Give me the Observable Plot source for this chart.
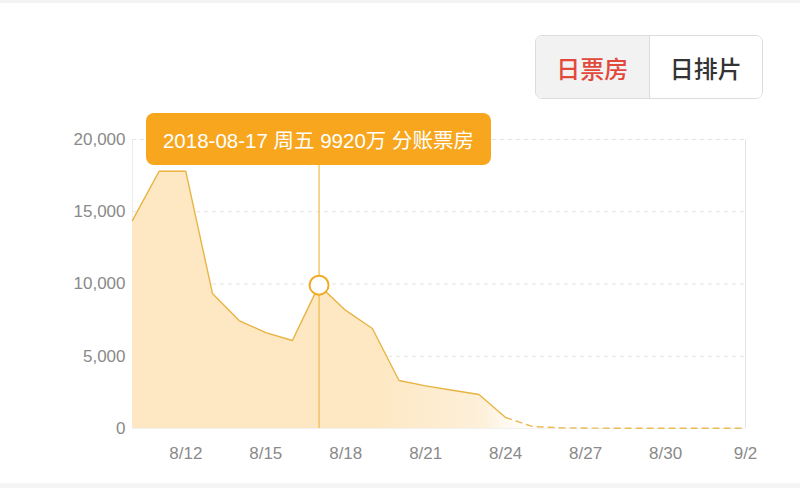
<!DOCTYPE html>
<html><head><meta charset="utf-8">
<script src="https://cdn.jsdelivr.net/npm/d3@7"></script>
<script src="https://cdn.jsdelivr.net/npm/@observablehq/plot@0.6"></script>
<style>
html,body{margin:0;padding:0;background:#fff;}
#wrap{position:relative;width:800px;height:488px;overflow:hidden;font-family:"Noto Sans CJK SC","Noto Sans",sans-serif;}
#btns{position:absolute;left:535px;top:35px;width:228px;height:64px;border:1px solid #dcdcdc;border-radius:7px;display:flex;overflow:hidden;box-sizing:border-box;}
#btns div{flex:1;display:flex;align-items:center;justify-content:center;font-size:24px;font-weight:500;}
#btns .on{background:#f2f2f2;color:#e2483c;border-right:1px solid #dcdcdc;}
#btns .off{background:#fff;color:#333;}
#tip{position:absolute;left:146px;top:113px;width:345px;height:52px;background:#f7a61e;border-radius:8px;color:#fff;font-family:"Liberation Sans","Noto Sans CJK SC",sans-serif;font-size:20.5px;display:flex;align-items:center;justify-content:center;white-space:nowrap;}
#topline{position:absolute;left:0;top:0;width:800px;height:3px;background:#f3f3f3;}
#botline{position:absolute;left:0;bottom:0;width:800px;height:5px;background:#f5f5f5;}
</style></head>
<body><div id="wrap"><div id="topline"></div><div id="botline"></div></div>
<script>
const dates = ["2018-08-10","2018-08-11","2018-08-12","2018-08-13","2018-08-14","2018-08-15","2018-08-16","2018-08-17","2018-08-18","2018-08-19","2018-08-20","2018-08-21","2018-08-22","2018-08-23","2018-08-24","2018-08-25","2018-08-26","2018-08-27","2018-08-28","2018-08-29","2018-08-30","2018-08-31","2018-09-01","2018-09-02"];
const values = [14400,17800,17800,9350,7470,6640,6090,9920,8170,6920,3320,2950,2650,2350,760,140,50,30,20,20,20,20,20,20];
const xTicks = ["2018-08-12","2018-08-15","2018-08-18","2018-08-21","2018-08-24","2018-08-27","2018-08-30","2018-09-02"];
const yTicks = [0,5000,10000,15000,20000];
const highlightDate = "2018-08-17";
const highlightValue = 9920;
const tipText = "2018-08-17 周五 9920万 分账票房";
const buttons = ["日票房","日排片"];
const solidEnd = "2018-08-24";

const parse = d3.utcParse("%Y-%m-%d");
const data = dates.map((d,i)=>({date:parse(d), value:values[i]}));
const solid = data.filter(d=>d.date <= parse(solidEnd));
const dashed = data.filter(d=>d.date >= parse(solidEnd));
const hl = [{date:parse(highlightDate), value:highlightValue}];

const defs = () => {
  const g = d3.create("svg:defs");
  const lg = g.append("linearGradient").attr("id","areaGrad").attr("gradientUnits","userSpaceOnUse")
    .attr("x1",132).attr("x2",545).attr("y1",0).attr("y2",0);
  lg.append("stop").attr("offset","0").attr("stop-color","#fde8c3");
  lg.append("stop").attr("offset","0.6").attr("stop-color","#fde8c3");
  lg.append("stop").attr("offset","0.85").attr("stop-color","#fdecd0").attr("stop-opacity",0.8);
  lg.append("stop").attr("offset","1").attr("stop-color","#fff").attr("stop-opacity",0.1);
  return g.node();
};

const chart = Plot.plot({
  width: 800, height: 488,
  marginLeft: 132, marginRight: 55, marginTop: 139, marginBottom: 60,
  style: {fontFamily: "'Liberation Sans', 'Noto Sans', sans-serif", fontSize: "17px", color: "#8a8a8a", background: "transparent", overflow: "visible"},
  x: {type: "utc", domain: [parse(dates[0]), parse(dates[dates.length-1])], label: null},
  y: {domain: [0, 20000], label: null},
  marks: [
    defs,
    Plot.gridY(yTicks.filter(d=>d>0), {stroke: "#cfcfcf", strokeOpacity: 0.6, strokeDasharray: "4,4"}),
    Plot.ruleX([parse(dates[dates.length-1])], {stroke: "#e4e4e4", strokeWidth: 1}),
    Plot.ruleX([parse(dates[0])], {stroke: "#ececec", strokeWidth: 1}),
    Plot.areaY(data, {x: "date", y: "value", fill: "url(#areaGrad)"}),
    Plot.ruleY([0], {stroke: "#f2f2f2"}),
    Plot.line(solid, {x: "date", y: "value", stroke: "#e8b443", strokeWidth: 1.4}),
    Plot.line(dashed, {x: "date", y: "value", stroke: "#e9bb55", strokeWidth: 1.4, strokeDasharray: "6,5"}),
    Plot.ruleX(hl, {x: "date", y1: 0, y2: 21000, stroke: "#eebc4a", strokeWidth: 1.2}),
    Plot.dot(hl, {x: "date", y: "value", r: 9.5, fill: "#fff", stroke: "#f2a91f", strokeWidth: 2}),
    Plot.axisX({ticks: xTicks.map(parse), tickFormat: d3.utcFormat("%-m/%-d"), tickSize: 0, tickPadding: 18, fill: "#8a8a8a"}),
    Plot.axisY({ticks: yTicks, tickFormat: d3.format(","), tickSize: 0, tickPadding: 7, fill: "#8a8a8a"})
  ]
});
chart.style.position = "absolute";
chart.style.left = "0"; chart.style.top = "0";
const wrap = document.getElementById("wrap");
wrap.appendChild(chart);
const tip = document.createElement("div"); tip.id = "tip"; tip.textContent = tipText; wrap.appendChild(tip);
const btns = document.createElement("div"); btns.id = "btns";
buttons.forEach((b,i)=>{const d=document.createElement("div"); d.className = i===0?"on":"off"; d.textContent=b; btns.appendChild(d);});
wrap.appendChild(btns);
</script></body></html>
